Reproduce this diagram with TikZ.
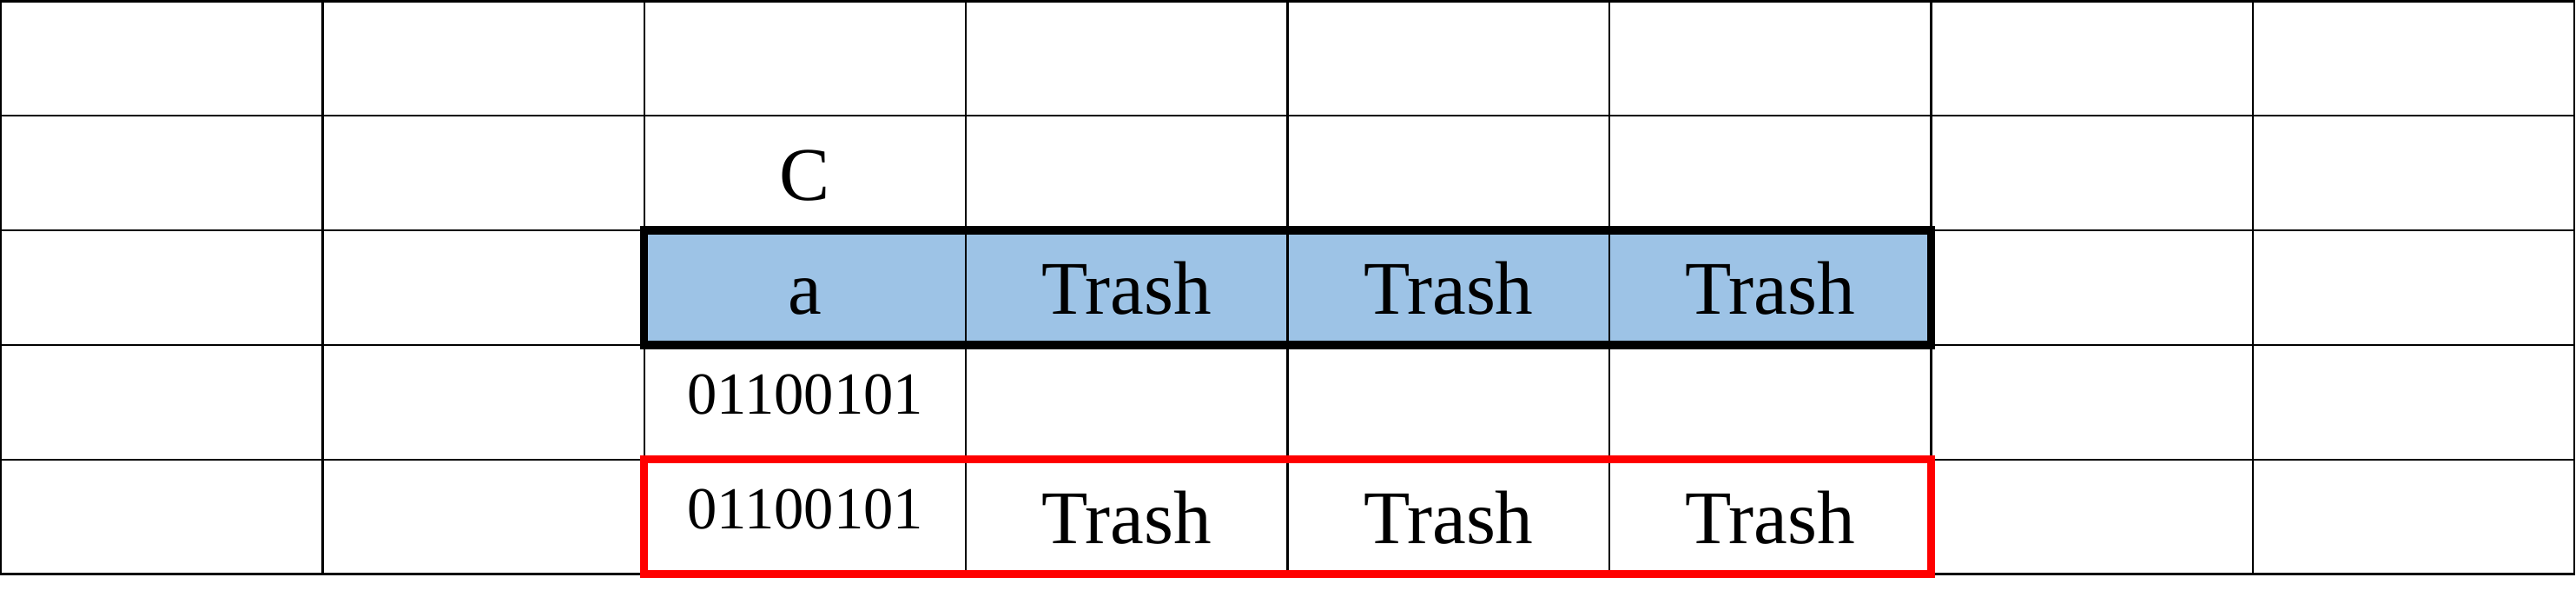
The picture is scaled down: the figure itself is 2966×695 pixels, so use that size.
\documentclass[tikz,border=0pt]{standalone}
\usepackage{fontspec}
\setmainfont{Liberation Serif}
\definecolor{cellblue}{RGB}{157,195,230}
\pgfdeclarelayer{background}
\pgfsetlayers{background,main}
\begin{document}
\begin{tikzpicture}[x=0.01cm,y=-0.01cm,
  cell/.style={draw=black, line width=0.6pt, minimum width=3.704cm, minimum height=1.318cm, inner sep=0pt, outer sep=0pt},
  bigtext/.style={font=\fontsize{24.8}{26}\selectfont, inner sep=0pt, anchor=base},
  bintext/.style={font=\fontsize{19.5}{21}\selectfont, inner sep=0pt, anchor=base},
  blackbox/.style={draw=black, line width=2.6pt},
  redbox/.style={draw=red, line width=2.6pt}]
\useasboundingbox (0,0) rectangle (2966,695);
\foreach \r in {0,...,4} {
  \foreach \c in {0,...,7} {
    \node[cell] (c-\r-\c) at ({186.2+370.4*\c},{67.4+131.8*\r}) {};
  }
}
\begin{pgfonlayer}{background}
  \fill[cellblue] (c-2-2.north west) rectangle (c-2-5.south east);
\end{pgfonlayer}
\draw[blackbox] (c-2-2.north west) rectangle (c-2-5.south east);
\draw[redbox] (c-4-2.north west) rectangle (c-4-5.south east);
% texts
\node[bigtext] (tC) at ([yshift=-0.97cm]c-1-2.north) {C};
\node[bigtext] (ta) at ([yshift=-0.967cm]c-2-2.north) {a};
\node[bigtext] (t23) at ([yshift=-0.967cm]c-2-3.north) {Trash};
\node[bigtext] (t24) at ([yshift=-0.967cm]c-2-4.north) {Trash};
\node[bigtext] (t25) at ([yshift=-0.967cm]c-2-5.north) {Trash};
\node[bintext] (b32) at ([yshift=-0.797cm]c-3-2.north) {01100101};
\node[bintext] (b42) at ([yshift=-0.797cm]c-4-2.north) {01100101};
\node[bigtext] (t43) at ([yshift=-0.967cm]c-4-3.north) {Trash};
\node[bigtext] (t44) at ([yshift=-0.967cm]c-4-4.north) {Trash};
\node[bigtext] (t45) at ([yshift=-0.967cm]c-4-5.north) {Trash};
\end{tikzpicture}
\end{document}
